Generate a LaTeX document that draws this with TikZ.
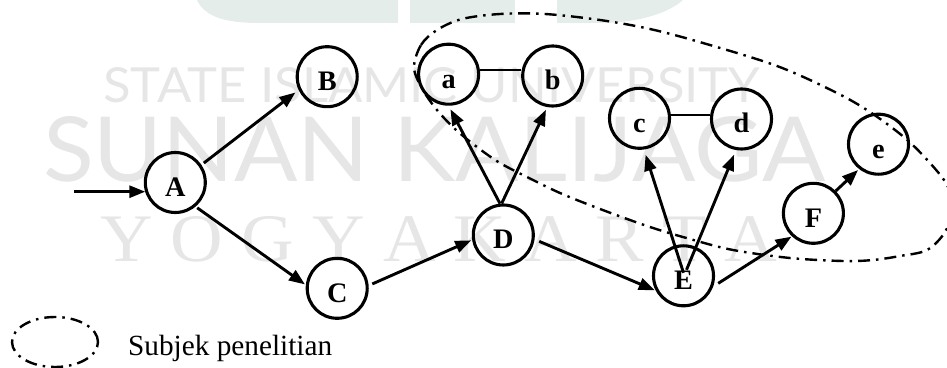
\documentclass[tikz,border=0pt]{standalone}
\usepackage{fontspec}
\setmainfont{Liberation Serif}
\newfontfamily\wmsans{Lato}
\newfontfamily\wmserif{Liberation Serif}
\usetikzlibrary{arrows.meta,calc}
\definecolor{wmgray}{RGB}{230,230,230}
\definecolor{wmteal}{RGB}{229,237,234}
\newcommand\vlbl[1]{\resizebox{!}{18.5pt}{\bfseries\vphantom{H}\smash{#1}}}
\tikzset{
  vtx/.style={circle,draw=black,line width=3.1pt,minimum size=60pt,inner sep=0pt,
    text height=28pt,text depth=0pt},
  arr/.style={line width=2.9pt,-{Triangle[length=16pt,width=12pt]}},
  link/.style={line width=2.2pt},
  subj/.style={line width=2.4pt,dash pattern=on 12pt off 6pt on 2.5pt off 6pt},
  wm/.style={inner sep=0pt,outer sep=0pt,text=wmgray}
}
\begin{document}
\begin{tikzpicture}[x=1pt,y=1pt]
\useasboundingbox (0,0) rectangle (947,367);
% watermark
\fill[wmteal] (197,367) .. controls (205,350) and (225,344) .. (260,344) -- (398,344) -- (398,367) -- cycle;
\fill[wmteal] (410,344) rectangle (515,367);
\fill[wmteal] (557,367) -- (557,344) -- (600,344) .. controls (640,344) and (670,355) .. (683,367) -- cycle;
\node[wm,anchor=south west] (w1) at (103,264) {\resizebox{657pt}{35pt}{\wmsans STATE ISLAMIC UNIVERSITY}};
\node[wm,anchor=south west] (w2) at (43,185) {\resizebox{782pt}{65pt}{\wmsans SUNAN KALIJAGA}};
\node[wm,anchor=south west] (w3) at (100,105) {\resizebox{677pt}{45pt}{\wmserif Y O G Y A K A R T A}};
% research subject boundary
\draw[subj] plot[smooth cycle,tension=0.55] coordinates {
 (414,299) (421,322) (437,337) (462,348) (500,353) (545,353) (600,347) (650,338)
 (703,324) (777,301) (835,275) (870,255) (905,229) (930,204) (947,182) (953,159)
 (945,135) (927,117) (900,111) (873,107) (843,106) (790,109) (733,117) (690,128)
 (650,140) (600,158) (560,174) (529,189) (500,204) (477,220) (455,238) (437,257) (423,277)};
% nodes
\node[vtx] (A) at (175.3,184.5) {\vlbl{A}};
\node[vtx] (B) at (327.2,290.3) {\vlbl{B}};
\node[vtx] (C) at (337.2,78.7) {\vlbl{C}};
\node[vtx] (D) at (503.3,132) {\vlbl{D}};
\node[vtx] (a) at (448.6,292.8) {\vlbl{a}};
\node[vtx] (b) at (552.7,291) {\vlbl{b}};
\node[vtx] (c) at (639.5,248.7) {\vlbl{c}};
\node[vtx] (d) at (741.5,248) {\vlbl{d}};
\node[vtx] (E) at (683.5,91.2) {\vlbl{E}};
\node[vtx] (F) at (813.4,153.7) {\vlbl{F}};
\node[vtx] (e) at (878.5,222.8) {\vlbl{e}};
% connectors
\coordinate (in) at (74,175.3);
\draw[arr] (in) -- (in -| A.198);
\draw[arr,shorten <=3pt,shorten >=4pt] (A.34) -- (B.205);
\draw[arr,shorten <=2pt,shorten >=1pt] (A.-50) -- (C.174);
\draw[arr,shorten <=4pt,shorten >=1pt] (C.5) -- (D.189);
\draw[arr,shorten >=4pt] (D.96) -- (a.270);
\draw[arr,shorten >=3pt] (D.93) -- (b.260);
\draw[arr,shorten <=5pt,shorten >=1pt] (D.-8) -- (E.208);
\draw[arr,shorten >=5.5pt] ([shift={(0pt,3pt)}]E.center) -- (c.278);
\draw[arr,shorten >=5pt] ([shift={(3pt,6pt)}]E.center) -- (d.260);
\draw[arr,shorten <=6pt,shorten >=0.5pt] (E.-20) -- (F.227);
\draw[arr,shorten >=1.4pt] (F.45) -- (e.232);
\draw[link] (a.7) -- (a.7 -| b.west);
\draw[link] (c.6) -- (c.6 -| d.west);
% legend
\draw[subj] (55,25) ellipse [x radius=43,y radius=25];
\node[anchor=base west,inner sep=0pt] (lt) at (128,12) {\resizebox{204pt}{!}{Subjek penelitian}};
\end{tikzpicture}
\end{document}
